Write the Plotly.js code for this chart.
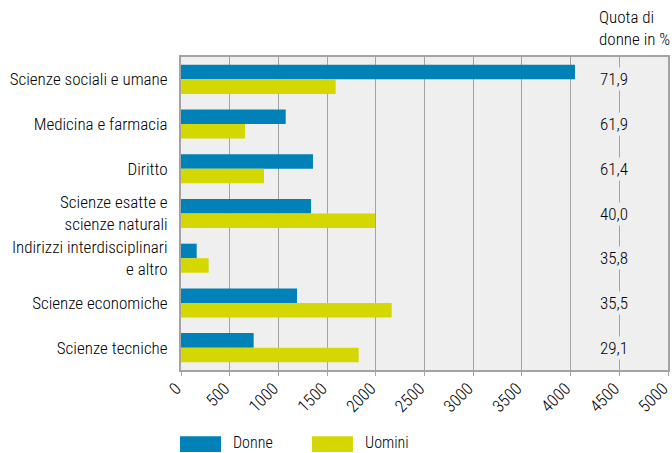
<!DOCTYPE html>
<html><head><meta charset="utf-8">
<script src="https://cdn.plot.ly/plotly-3.0.1.min.js"></script>
<style>html,body{margin:0;padding:0;background:#fff}</style>
</head><body>
<div id="chart" style="width:672px;height:453px"></div>
<script>
const categories = ["Scienze sociali e umane","Medicina e farmacia","Diritto","Scienze esatte e<br>scienze naturali","Indirizzi interdisciplinari<br>e altro","Scienze economiche","Scienze tecniche"];
const donne = [4045, 1075, 1355, 1335, 161, 1191, 746];
const uomini = [1588, 657, 852, 1992, 284, 2163, 1824];
const quotaDonne = ["71,9","61,9","61,4","40,0","35,8","35,5","29,1"];
const seriesNames = ["Donne","Uomini"];
const tickVals = [0,500,1000,1500,2000,2500,3000,3500,4000,4500,5000];
const headerText = "Quota di<br>donne in %";

const FONT = "Roboto Condensed, DejaVu Sans Condensed, Liberation Sans, Arial, sans-serif";
const BLUE = "#0081b8", YELLOW = "#d4d800", GRID = "#a3a3a3", TXT = "#000000";
const W = 300;

const traces = [
  {type:"bar", orientation:"h", name:seriesNames[0], y:categories, x:donne, marker:{color:BLUE}, hoverinfo:"x"},
  {type:"bar", orientation:"h", name:seriesNames[1], y:categories, x:uomini, marker:{color:YELLOW}, hoverinfo:"x"}
];

const annotations = categories.map((c,i)=>({
  x:4450, y:c, xref:"x", yref:"y", text:quotaDonne[i], showarrow:false,
  font:{family:FONT, size:17, color:TXT, weight:W}, bgcolor:"#efefef", borderpad:1,
  xanchor:"center", yanchor:"middle"
}));
annotations.push({x:0.854, y:1, xref:"paper", yref:"paper", xanchor:"left", yanchor:"bottom", yshift:6,
  text:headerText, showarrow:false, align:"left", font:{family:FONT, size:17, color:TXT, weight:W}});
annotations.push({x:0.1027, y:-0.232, xref:"paper", yref:"paper", xanchor:"left", yanchor:"middle",
  text:seriesNames[0], showarrow:false, font:{family:FONT, size:16, color:TXT, weight:W}});
annotations.push({x:0.374, y:-0.232, xref:"paper", yref:"paper", xanchor:"left", yanchor:"middle",
  text:seriesNames[1], showarrow:false, font:{family:FONT, size:16, color:TXT, weight:W}});

const shapes = [
  {type:"rect", xref:"paper", yref:"paper", x0:-0.002, x1:0.0821, y0:-0.2115, y1:-0.262, fillcolor:BLUE, line:{width:0}},
  {type:"rect", xref:"paper", yref:"paper", x0:0.269, x1:0.353, y0:-0.2115, y1:-0.262, fillcolor:YELLOW, line:{width:0}}
];

const layout = {
  width:672, height:453,
  margin:{l:181, r:4, t:57, b:83},
  paper_bgcolor:"#ffffff", plot_bgcolor:"#efefef",
  barmode:"group", bargap:0.35, bargroupgap:0,
  showlegend:false,
  font:{family:FONT, size:17, color:TXT, weight:W},
  xaxis:{range:[0,5000], tickvals:tickVals, ticktext:tickVals.map(String), tickangle:-45,
    showgrid:true, gridcolor:GRID, gridwidth:1, zeroline:false,
    showline:true, linecolor:GRID, linewidth:2, mirror:true,
    ticks:"outside", ticklen:4, tickcolor:GRID, tickwidth:1,
    ticklabeloverflow:"allow", ticklabelstandoff:-4, ticklabelshift:-5,
    tickfont:{family:FONT, size:17, color:TXT, weight:W}, fixedrange:true},
  yaxis:{autorange:"reversed", showgrid:false, zeroline:false,
    showline:true, linecolor:GRID, linewidth:2, mirror:true,
    ticks:"", ticklabelstandoff:8,
    tickfont:{family:FONT, size:17, color:TXT, weight:W}, fixedrange:true},
  annotations:annotations, shapes:shapes
};

Plotly.newPlot("chart", traces, layout, {displayModeBar:false, staticPlot:true});
</script>
</body></html>
